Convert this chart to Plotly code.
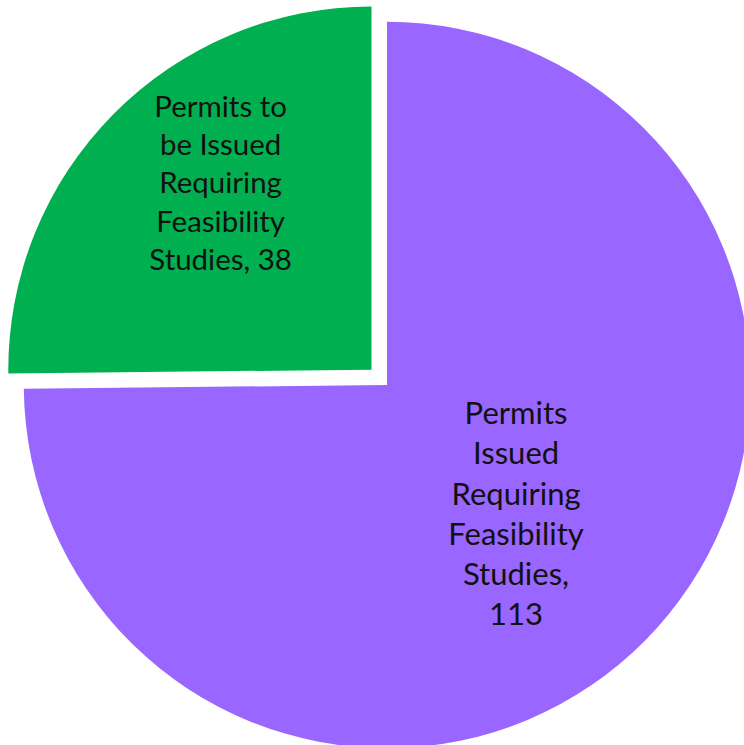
import plotly.graph_objects as go

labels = ["Permits Issued Requiring Feasibility Studies",
          "Permits to be Issued Requiring Feasibility Studies"]
values = [113, 38]
wrapped_labels = ["Permits<br>Issued<br>Requiring<br>Feasibility<br>Studies,<br>113",
                  "Permits to<br>be Issued<br>Requiring<br>Feasibility<br>Studies, 38<br> <br> "]
colors = ["#9966FF", "#00B050"]
pulls = [0, 0.06]

fig = go.Figure(go.Pie(
    labels=labels,
    values=values,
    text=wrapped_labels,
    texttemplate="%{text}",
    textposition="inside",
    insidetextorientation="horizontal",
    sort=False,
    direction="clockwise",
    rotation=0,
    pull=pulls,
    marker=dict(colors=colors, line=dict(width=0)),
    textfont=dict(family="Lato", size=31, color="#111111"),
    showlegend=False,
    hoverinfo="label+value",
))

fig.update_layout(
    width=774, height=770,
    margin=dict(l=0, r=0, t=0, b=0),
    paper_bgcolor="white",
    plot_bgcolor="white",
)

fig.write_html("out.html",
               post_script="document.body.style.overflow='hidden';document.documentElement.style.overflow='hidden';")
